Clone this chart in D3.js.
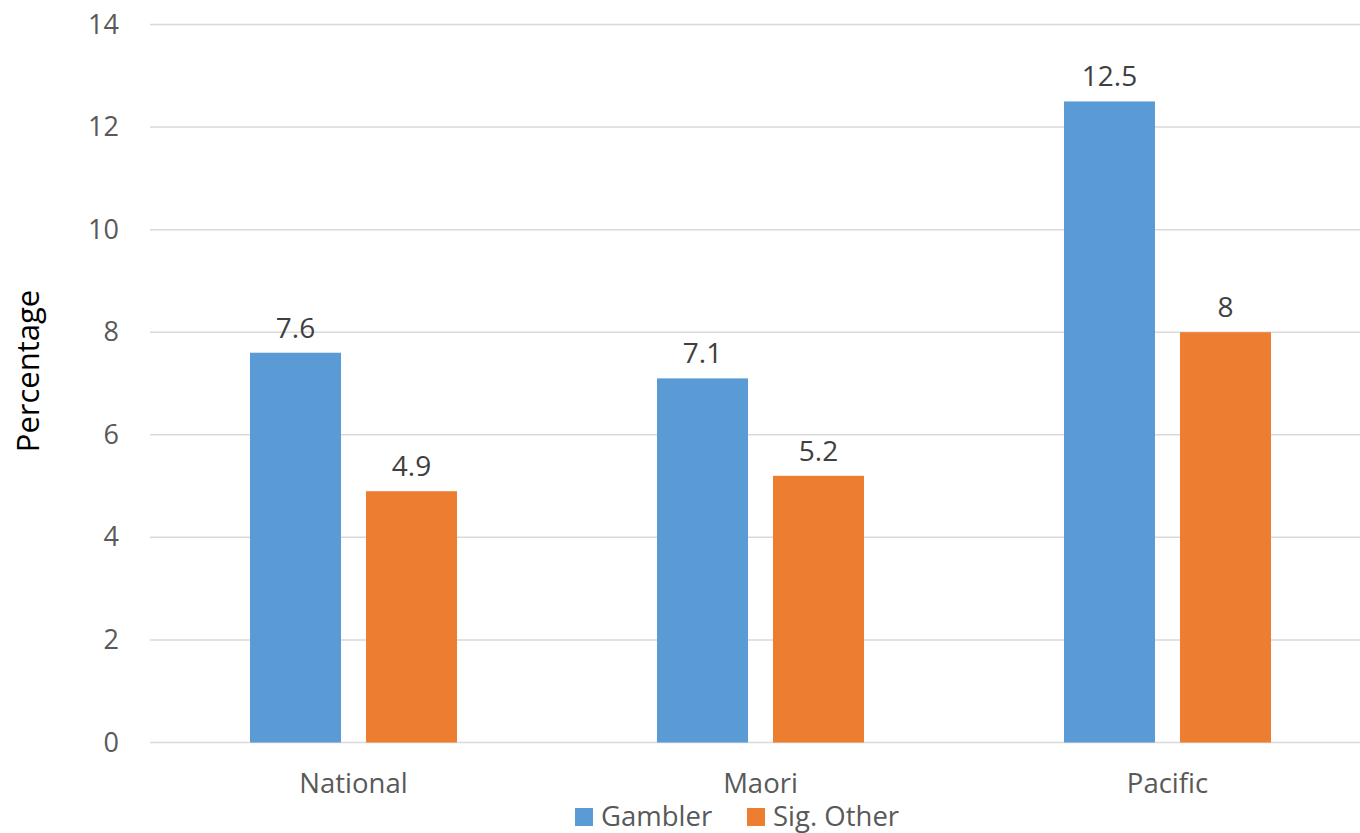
<!DOCTYPE html>
<html>
<head>
<meta charset="utf-8">
<script src="https://cdn.jsdelivr.net/npm/d3@7"></script>
<style>
  html, body { margin: 0; padding: 0; background: #fff; }
  svg { display: block; font-family: "Open Sans", "Noto Sans", sans-serif; }
</style>
</head>
<body>
<svg id="chart" width="1360" height="833"></svg>
<script>
// Problem gambling prevalence by population group
const categories = ["National", "Maori", "Pacific"];
const seriesNames = ["Gambler", "Sig. Other"];
const gamblerValues = [7.6, 7.1, 12.5];
const sigOtherValues = [4.9, 5.2, 8];
const yTicks = [0, 2, 4, 6, 8, 10, 12, 14];
const colors = ["#5B9BD5", "#ED7D31"];

const svg = d3.select("#chart");
const margin = { left: 150, right: -11, top: 24.5, bottom: 833 - 742.5 };
const width = 1360 - margin.left - margin.right;
const height = 833 - margin.top - margin.bottom;

const g = svg.append("g").attr("transform", `translate(${margin.left},${margin.top})`);

const x0 = d3.scaleBand().domain(categories).range([0, width]);
const x1 = d3.scaleBand().domain(seriesNames).range([0, x0.bandwidth()])
  .paddingInner(25 / 116).paddingOuter(100 / 116);
const y = d3.scaleLinear().domain([0, 14]).range([height, 0]);

// Horizontal gridlines
g.append("g")
  .selectAll("line")
  .data(yTicks)
  .join("line")
  .attr("x1", 0)
  .attr("x2", 1360 - margin.left)
  .attr("y1", d => y(d))
  .attr("y2", d => y(d))
  .attr("stroke", "#D9D9D9")
  .attr("stroke-width", 1.5);

// Y axis labels
const yAxis = d3.axisLeft(y).tickValues(yTicks).tickSize(0).tickPadding(31);
const yg = g.append("g").call(yAxis);
yg.select(".domain").remove();
yg.selectAll("text")
  .attr("fill", "#595959")
  .style("font-size", "27px")
  .style("font-family", "'Open Sans', sans-serif");

// Bars
const rows = categories.map((c, i) => ({
  category: c,
  values: [
    { series: seriesNames[0], value: gamblerValues[i], color: colors[0] },
    { series: seriesNames[1], value: sigOtherValues[i], color: colors[1] }
  ]
}));

const groups = g.append("g")
  .selectAll("g")
  .data(rows)
  .join("g")
  .attr("transform", d => `translate(${x0(d.category)},0)`);

groups.selectAll("rect")
  .data(d => d.values)
  .join("rect")
  .attr("x", d => x1(d.series))
  .attr("width", x1.bandwidth())
  .attr("y", d => y(d.value))
  .attr("height", d => y(0) - y(d.value))
  .attr("fill", d => d.color);

// Value labels
groups.selectAll("text")
  .data(d => d.values)
  .join("text")
  .attr("x", d => x1(d.series) + x1.bandwidth() / 2)
  .attr("y", d => y(d.value) - 15)
  .attr("text-anchor", "middle")
  .attr("fill", "#404040")
  .style("font-size", "28px")
  .text(d => d.value);

// Category labels
g.append("g")
  .selectAll("text")
  .data(categories)
  .join("text")
  .attr("x", d => x0(d) + x1("Gambler") + (x1("Sig. Other") + x1.bandwidth() - x1("Gambler")) / 2)
  .attr("y", height + 50)
  .attr("text-anchor", "middle")
  .attr("fill", "#595959")
  .style("font-size", "27.5px")
  .text(d => d);

// Y axis title
svg.append("text")
  .attr("transform", "translate(39,371) rotate(-90)")
  .attr("text-anchor", "middle")
  .attr("fill", "#000")
  .style("font-size", "31px")
  .text("Percentage");

// Legend
const legendItems = [
  { name: seriesNames[0], color: colors[0], x: 575 },
  { name: seriesNames[1], color: colors[1], x: 747 }
];
const legend = svg.append("g");
legend.selectAll("rect")
  .data(legendItems)
  .join("rect")
  .attr("x", d => d.x)
  .attr("y", 808)
  .attr("width", 18)
  .attr("height", 18)
  .attr("fill", d => d.color);
legend.selectAll("text")
  .data(legendItems)
  .join("text")
  .attr("x", d => d.x + 26)
  .attr("y", 826)
  .attr("fill", "#595959")
  .style("font-size", "27.5px")
  .text(d => d.name);
</script>
</body>
</html>
